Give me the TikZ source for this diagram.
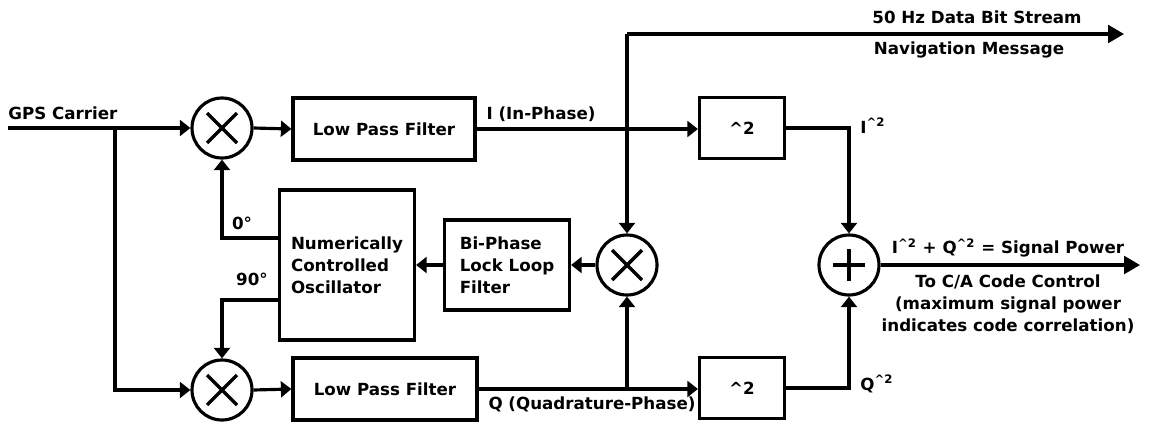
\documentclass[tikz,border=0pt]{standalone}
\usepackage{fontspec}
\setmainfont{DejaVu Sans}
\usetikzlibrary{arrows.meta, positioning}

\tikzset{
  wire/.style={line width=1.8pt},
  sig/.style={line width=1.8pt, -{Triangle[length=6pt,width=9pt]}},
  outsig/.style={line width=1.8pt, -{Triangle[length=9pt,width=10pt]}},
  blok/.style={draw, line width=1.8pt, rectangle, align=center, inner sep=2pt,
    font=\bfseries\fontsize{9.5}{12.5}\selectfont},
  lbl/.style={inner sep=0pt, font=\bfseries\fontsize{9.5}{12.5}\selectfont},
  mixer/.style={draw, line width=1.8pt, circle, minimum size=1.2cm, inner sep=0pt,
    path picture={
      \draw[line width=2pt] ([shift={(-0.3cm,-0.3cm)}]path picture bounding box.center)
        -- ([shift={(0.3cm,0.3cm)}]path picture bounding box.center);
      \draw[line width=2pt] ([shift={(-0.3cm,0.3cm)}]path picture bounding box.center)
        -- ([shift={(0.3cm,-0.3cm)}]path picture bounding box.center);}},
  summer/.style={draw, line width=1.8pt, circle, minimum size=1.2cm, inner sep=0pt,
    path picture={
      \draw[line width=2pt] ([xshift=-0.32cm]path picture bounding box.center)
        -- ([xshift=0.32cm]path picture bounding box.center);
      \draw[line width=2pt] ([yshift=-0.32cm]path picture bounding box.center)
        -- ([yshift=0.32cm]path picture bounding box.center);}}
}

\begin{document}
\begin{tikzpicture}[x=0.02cm, y=-0.02cm]
    \useasboundingbox (0,0) rectangle (1152,423);

    % carrier input and its split to the Q branch
    \node[lbl, anchor=west] (gpslbl) at (8,113) {GPS Carrier};
    \coordinate (src) at (8,128);
    \coordinate (split) at (115,128);

    % I branch
    \node[mixer] (mixI) at (222,128) {};
    \node[blok, minimum width=3.64cm, minimum height=1.24cm] (lpfI) at (384,129) {Low Pass Filter};
    \node[blok, minimum width=1.7cm, minimum height=1.22cm] (sqI) at (742,128) {\textasciicircum2};

    % Q branch
    \node[mixer] (mixQ) at (222,390) {};
    \node[blok, minimum width=3.68cm, minimum height=1.24cm] (lpfQ) at (385,389) {Low Pass Filter};
    \node[blok, minimum width=1.7cm, minimum height=1.22cm] (sqQ) at (742,388) {\textasciicircum2};

    % loop: oscillator, filter, phase detector
    \node[blok, minimum width=2.7cm, minimum height=3cm, align=left] (nco) at (347,265)
        {Numerically\\Controlled\\Oscillator};
    \node[blok, minimum width=2.5cm, minimum height=1.8cm, align=left] (bpll) at (507,265)
        {Bi-Phase\\Lock Loop\\Filter};
    \node[mixer] (mixD) at (627,265) {};

    % power sum
    \node[summer] (sum) at (849,265) {};

    % outputs
    \coordinate (navtop) at (627,34);
    \coordinate (navend) at (1124,34);
    \coordinate (outend) at (1140,265);

    % connectors
    \draw[wire] (src) -- (split);
    \draw[sig] (split) -- (mixI.west);
    \draw[sig] (split) |- (mixQ.west);
    \draw[sig] (mixI.east) -- (lpfI.west);
    \draw[sig] (mixQ.east) -- (lpfQ.west);
    \draw[sig] (lpfI.east) -- (lpfI.east -| sqI.west);
    \draw[sig] (lpfQ.east) -- (lpfQ.east -| sqQ.west);
    \draw[sig] (navtop) -- (mixD.north);
    \draw[outsig] (navtop) -- (navend);
    \draw[sig] (mixD.south |- lpfQ.east) -- (mixD.south);
    \draw[sig] (mixD.west) -- (bpll.east);
    \draw[sig] (bpll.west) -- (nco.east);
    \draw[sig] ([yshift=0.54cm]nco.west) -| (mixI.south);
    \draw[sig] ([yshift=-0.7cm]nco.west) -| (mixQ.north);
    \draw[sig] (sqI.east) -| (sum.north);
    \draw[sig] (sqQ.east) -| (sum.south);
    \draw[outsig] (sum.east) -- (outend);

    % labels
    \node[lbl] (ilbl) at (541,114) {I (In-Phase)};
    \node[lbl] (qlbl) at (592,404) {Q (Quadrature-Phase)};
    \node[lbl] (zlbl) at (242,223) {0\textdegree};
    \node[lbl] (nlbl) at (252,279) {90\textdegree};
    \node[lbl, anchor=west] (i2lbl) at (860,126) {I\textsuperscript{\textasciicircum2}};
    \node[lbl, anchor=west] (q2lbl) at (860,384) {Q\textsuperscript{\textasciicircum2}};
    \node[lbl] (bitlbl) at (977,17) {50 Hz Data Bit Stream};
    \node[lbl] (navlbl) at (969,50) {Navigation Message};
    \node[lbl] (pwrlbl) at (1008,248)
        {I\textsuperscript{\textasciicircum2} + Q\textsuperscript{\textasciicircum2} = Signal Power};
    \node[lbl, align=center] (ctllbl) at (1008,304)
        {To C/A Code Control\\(maximum signal power\\indicates code correlation)};
\end{tikzpicture}
\end{document}
